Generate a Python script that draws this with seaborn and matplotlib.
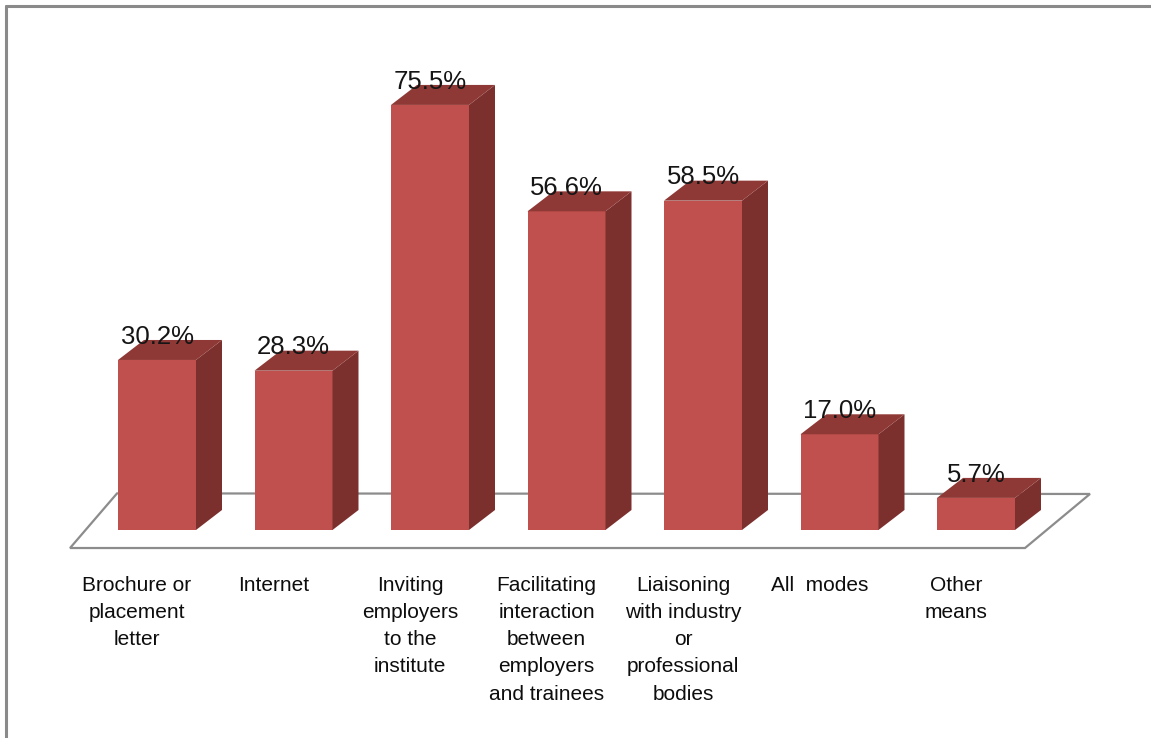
import matplotlib
matplotlib.use("Agg")
import matplotlib.pyplot as plt
from matplotlib.patches import Polygon
import seaborn as sns
import pandas as pd

# Survey results: modes used to approach employers for placement
categories = [
    "Brochure or\nplacement\nletter",
    "Internet",
    "Inviting\nemployers\nto the\ninstitute",
    "Facilitating\ninteraction\nbetween\nemployers\nand trainees",
    "Liaisoning\nwith industry\nor\nprofessional\nbodies",
    "All  modes",
    "Other\nmeans",
]
values = [30.2, 28.3, 75.5, 56.6, 58.5, 17.0, 5.7]
value_labels = ["30.2%", "28.3%", "75.5%", "56.6%", "58.5%", "17.0%", "5.7%"]

df = pd.DataFrame({"mode": categories, "share": values})

sns.set_theme(style="white")
plt.rcParams["font.family"] = ["Liberation Sans", "DejaVu Sans"]

FRONT = "#C0504D"
SIDE = "#7C302E"
TOP = "#8F3936"

W, H = 1151, 738
fig = plt.figure(figsize=(W / 100, H / 100), dpi=100)
ax = fig.add_axes([0, 0, 1, 1])

# pixel geometry of the category axis and value axis
px_per_cat = 136.5
x0_px = 157.0
px_per_pct = 5.63
base_px = 530.0

bar_w = 78 / px_per_cat
depth_x = 26 / px_per_cat
depth_y = 20 / px_per_pct

# floor parallelogram under the bars
floor = Polygon(
    [(-0.637, -3.2), (6.359, -3.2), (6.835, 6.4), (-0.293, 6.5)],
    closed=True, facecolor="white", edgecolor="#8c8c8c", linewidth=1.6, zorder=1,
)
ax.add_patch(floor)

sns.barplot(data=df, x="mode", y="share", color=FRONT, saturation=1,
            width=bar_w, ax=ax, zorder=3, linewidth=0)

for i, v in enumerate(values):
    left = i - bar_w / 2
    right = i + bar_w / 2
    side = Polygon(
        [(right, 0), (right + depth_x, depth_y), (right + depth_x, v + depth_y), (right, v)],
        closed=True, facecolor=SIDE, edgecolor="none", zorder=3,
    )
    top = Polygon(
        [(left, v), (right, v), (right + depth_x, v + depth_y), (left + depth_x, v + depth_y)],
        closed=True, facecolor=TOP, edgecolor="none", zorder=3,
    )
    ax.add_patch(side)
    ax.add_patch(top)
    ax.text(i, v + 2.9, value_labels[i], ha="center", va="baseline",
            fontsize=18.5, color="#151515", zorder=5)
    ax.text(i - 20 / px_per_cat, -8.2, categories[i], ha="center", va="top",
            fontsize=15, color="#0d0d0d", linespacing=1.54, zorder=5)

ax.set_xlim(-x0_px / px_per_cat, (W - x0_px) / px_per_cat)
ax.set_ylim(-(H - base_px) / px_per_pct, base_px / px_per_pct)
ax.set_xlabel("")
ax.set_ylabel("")
ax.set_xticks([])
ax.set_yticks([])
for s in ax.spines.values():
    s.set_visible(False)

# outer frame: top and left edges
fig.add_artist(plt.Line2D([6 / W, 1], [1 - 6 / H, 1 - 6 / H], transform=fig.transFigure,
                          color="#8a8a8a", linewidth=2.2))
fig.add_artist(plt.Line2D([6 / W, 6 / W], [0, 1 - 6 / H], transform=fig.transFigure,
                          color="#8a8a8a", linewidth=2.2))

fig.savefig("out.png", dpi=100)
